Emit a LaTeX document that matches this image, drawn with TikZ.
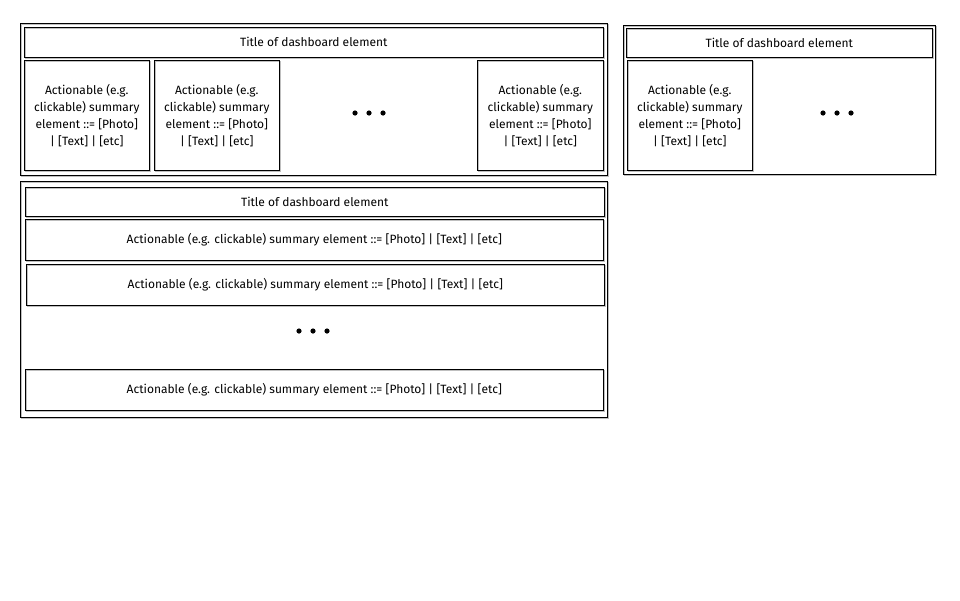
\documentclass[tikz,border=0pt]{standalone}
\usepackage{fontspec}
\setmainfont{Fira Sans}
\usepackage{tikz}
\usetikzlibrary{positioning}
\newcommand{\cardtext}{Actionable (e.g.\\clickable) summary\\element ::= [Photo]\\| [Text] | [etc]}
\newcommand{\rowtext}{Actionable (e.g. clickable) summary element ::= [Photo] | [Text] | [etc]}
\newcommand{\titletext}{Title of dashboard element}

\begin{document}
\begin{tikzpicture}[x=1pt,y=-1pt,
  sketch/.style={draw=black,line width=0.6pt,
    preaction={draw=gray!50,line width=1.2pt,transform canvas={shift={(0.8pt,-0.9pt)}}}},
  box/.style={sketch,rectangle,inner sep=0pt,anchor=north west,align=center,
    font=\fontsize{12}{17}\selectfont},
  dot/.style={fill=black}]
\useasboundingbox[fill=white] (0,0) rectangle (960,600);
% top left panel
\node[box,minimum width=587,minimum height=152] (panelA) at (20,23) {};
\node[box,minimum width=579,minimum height=30] (titleA) at (24,27) {\titletext};
\node[box,minimum width=125,minimum height=110] (cardA1) at (24,60) {\cardtext};
\node[box,minimum width=125,minimum height=110] (cardA2) at (154,60) {\cardtext};
\node[box,minimum width=126,minimum height=110] (cardA3) at (477,60) {\cardtext};
\coordinate (dotsA) at (369,113);
% top right panel
\node[box,minimum width=312,minimum height=149] (panelB) at (623,25) {};
\node[box,minimum width=306,minimum height=29] (titleB) at (626,28) {\titletext};
\node[box,minimum width=125,minimum height=110] (cardB1) at (627,60) {\cardtext};
\coordinate (dotsB) at (837,113);
% bottom panel
\node[box,minimum width=587,minimum height=236] (panelC) at (20,181) {};
\node[box,minimum width=579,minimum height=29] (titleC) at (25,187) {\titletext};
\node[box,minimum width=578,minimum height=41] (rowC1) at (25,219) {\rowtext};
\node[box,minimum width=578,minimum height=41] (rowC2) at (26,264) {\rowtext};
\node[box,minimum width=578,minimum height=41] (rowC3) at (25,369) {\rowtext};
\coordinate (dotsC) at (313,331);
\foreach \d in {dotsA,dotsB,dotsC}
  \foreach \dx in {-14,0,14}
    \fill[dot] (\d) ++(\dx,0) circle (2.6);
\end{tikzpicture}
\end{document}
